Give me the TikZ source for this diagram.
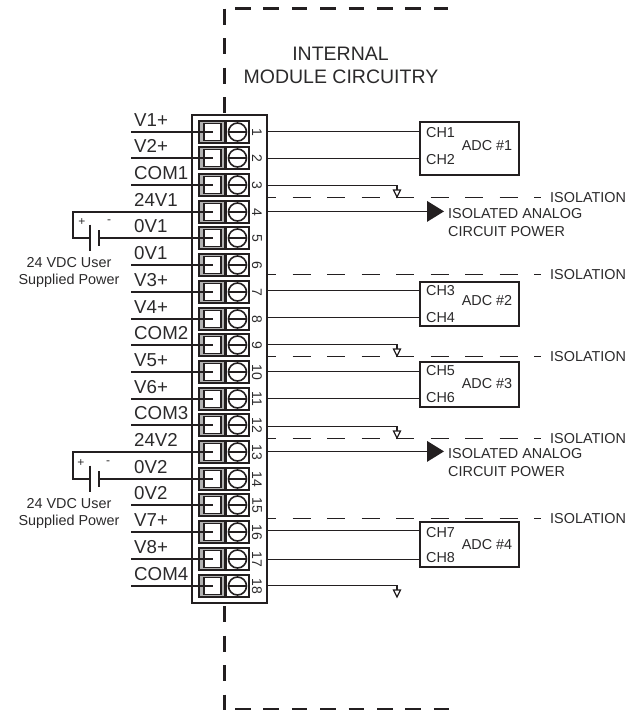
\documentclass[tikz,border=0pt]{standalone}
\usepackage{fontspec}
\setmainfont{Liberation Sans}
\definecolor{ink}{HTML}{231F20}
\definecolor{txt}{HTML}{2B2A2B}
\tikzset{
  wire/.style={draw=ink,line width=1.45pt},
  bigdash/.style={draw=ink,line width=2.3pt,dash pattern=on 15.5pt off 12.9pt},
  vdash/.style={draw=ink,line width=2.3pt,dash pattern=on 16pt off 13.5pt},
  iso/.style={draw=ink,line width=1.45pt,dash pattern=on 18pt off 16.5pt,dash phase=9pt},
  blockbox/.style={draw=ink,line width=2.3pt,rectangle,minimum width=75pt,minimum height=488pt,inner sep=0pt},
  adcbox/.style={draw=ink,line width=1.7pt,fill=white,rectangle,minimum width=99pt,inner sep=0pt},
  sqbox/.style={draw=ink,line width=1.8pt,fill=black!30,rectangle,minimum width=26pt,minimum height=22pt,inner sep=0pt},
  sqin/.style={draw=ink,line width=1.6pt,fill=white,rectangle,minimum width=17pt,minimum height=17pt,inner sep=0pt},
  scrbox/.style={draw=ink,line width=1.8pt,fill=white,rectangle,minimum width=23pt,minimum height=22pt,inner sep=0pt},
  scr/.style={draw=ink,line width=1.6pt,fill=white,circle,minimum size=18pt,inner sep=0pt},
  tlabel/.style={anchor=base west,inner sep=0pt,text=txt,font=\fontsize{18.7}{20}\selectfont},
  tnum/.style={rotate=-90,inner sep=0pt,text=txt,font=\fontsize{14}{14}\selectfont},
  small/.style={inner sep=0pt,text=txt,font=\fontsize{14.4}{14.4}\selectfont},
  head/.style={inner sep=0pt,text=txt,font=\fontsize{19.5}{20}\selectfont},
  gnd/.pic={\draw[draw=ink,line width=1.2pt,fill=white] (-3.5,0) -- (3.5,0) -- (0,7) -- cycle;},
  power/.pic={\fill[ink] (0,-10.5) -- (17,0) -- (0,10.5) -- cycle;}
}
\begin{document}
\begin{tikzpicture}[x=1pt,y=-1pt]
\useasboundingbox (0,0) rectangle (641,710);
% outer dashed frame
\coordinate (ftl) at (224.5,8.5);
\coordinate (ftr) at (448,8.5);
\coordinate (fts) at (235,8.5);
\coordinate (fbl) at (224.5,606);
\coordinate (fbe) at (224.5,712);
\coordinate (fbs) at (235,709);
\coordinate (fbr) at (450,709);
\coordinate (fvs) at (224.5,113);
\draw[bigdash] (fts) -- (ftr);
\draw[vdash] (ftl) -- (fvs);
\draw[vdash] (fbl) -- (fbe);
\draw[bigdash] (fbs) -- (fbr);
\node[head] (int) at (340.5,54) {INTERNAL};
\node[head] (mod) at (341,77) {MODULE CIRCUITRY};
% terminal block
\node[blockbox] (blk) at (229.5,359) {};
\foreach \i/\lab in {1/V1+,2/V2+,3/COM1,4/24V1,5/0V1,6/0V1,7/V3+,8/V4+,9/COM2,10/V5+,11/V6+,12/COM3,13/24V2,14/0V2,15/0V2,16/V7+,17/V8+,18/COM4}{
  \pgfmathsetmacro\yy{round(131.7+26.7*(\i-1))}
  \node[sqbox] (sb\i) at (212,\yy) {};
  \node[sqin] (sq\i) at (212.5,\yy) {};
  \node[scrbox] (sc\i) at (237.5,\yy) {};
  \node[scr] (sw\i) at (237.5,\yy) {};
  \draw[draw=ink,line width=2.4pt] (sw\i.west) -- (sw\i.east);
  \node[tnum] (n\i) at (257,\yy) {\i};
  \coordinate (w\i) at (131,\yy);
  \node[tlabel] (lab\i) at (134,\yy-6) {\lab};
}
% left wires
\foreach \i in {1,2,3,6,7,8,9,10,11,12,15,16,17,18}{
  \draw[wire] (w\i) -- (sq\i.center);
}
% ADC boxes
\node[adcbox,minimum height=53pt] (adc1) at (469.5,148.5) {};
\node[adcbox,minimum height=44pt] (adc2) at (469.5,303.7) {};
\node[adcbox,minimum height=45pt] (adc3) at (469.5,384.2) {};
\node[adcbox,minimum height=45pt] (adc4) at (469.5,544.5) {};
\foreach \a/\t/\ya/\lo/\yb/\hi/\yc in {adc1/ADC \#1/146/CH1/132.7/CH2/159.3,adc2/ADC \#2/300.7/CH3/290/CH4/317,adc3/ADC \#3/384/CH5/370.7/CH6/397.7,adc4/ADC \#4/545/CH7/532/CH8/557.7}{
  \node[small] (\a t) at (487,\ya) {\t};
  \node[small,anchor=base west] (\a a) at (426,\yb+5.2) {\lo};
  \node[small,anchor=base west] (\a b) at (426,\yc+5.2) {\hi};
}
% right wires to ADC
\foreach \y/\a in {131.6/adc1,158.5/adc1,290.6/adc2,317.6/adc2,371.4/adc3,398.4/adc3,530.4/adc4,559.4/adc4}{
  \coordinate (r) at (267,\y);
  \draw[wire] (r) -- (r -| \a.west);
}
% ground returns
\foreach \y/\gy/\nm in {185.6/190/ga,344.6/349/gb,426.5/431/gc,585.6/590/gd}{
  \coordinate (rg\nm) at (267,\y);
  \coordinate (\nm) at (397,\gy);
  \draw[wire] (rg\nm) -| (\nm);
}
% isolation lines
\foreach \y/\nm in {197.4/ia,274.4/ib,356.4/ic,438.6/id,518.4/ie}{
  \node[small,anchor=base west] (\nm) at (550,\y+5.2) {ISOLATION};
  \coordinate (\nm s) at (267,\y);
  \draw[iso] (\nm s) -- (541,\y);
}
\foreach \nm in {ga,gb,gc,gd}{ \pic at (\nm) {gnd}; }
% isolated analog power
\foreach \y/\nm in {211.4/pa,451.4/pb}{
  \coordinate (\nm s) at (267,\y);
  \coordinate (\nm) at (427,\y);
  \draw[wire] (\nm s) -- (\nm);
  \pic at (\nm) {power};
  \node[small,anchor=base west] (\nm a) at (448,\y+7) {ISOLATED ANALOG};
  \node[small,anchor=base west] (\nm b) at (448,\y+24.6) {CIRCUIT POWER};
}
% supplies
\foreach \t/\b/\nm/\dy in {4/5/ba/0,13/14/bb/-1}{
  \coordinate (\nm c) at (73,0 |- sq\t);
  \coordinate (\nm p) at (90,0 |- sq\b);
  \coordinate (\nm n) at (99,0 |- sq\b);
  \draw[wire] (sq\t.center) -- (\nm c) |- (\nm p);
  \draw[wire] (\nm n) -- (sq\b.center);
  \draw[wire] ([yshift=13.3pt]\nm p) -- ([yshift=-13.3pt]\nm p);
  \draw[wire] ([yshift=8pt]\nm n) -- ([yshift=-8pt]\nm n);
  \node[inner sep=0pt,text=txt,font=\fontsize{12}{12}\selectfont] (\nm+) at ([xshift=-8pt+\dy pt,yshift=16pt]\nm p) {+};
  \node[inner sep=0pt,text=txt,font=\fontsize{12}{12}\selectfont] (\nm-) at ([xshift=10pt+\dy pt,yshift=16pt]\nm n) {-};
  \node[small] (\nm u) at ([xshift=-21pt,yshift=-24.3pt]\nm p) {24 VDC User};
  \node[small] (\nm v) at ([xshift=-21pt,yshift=-42.3pt]\nm p) {Supplied Power};
}
\end{tikzpicture}
\end{document}
